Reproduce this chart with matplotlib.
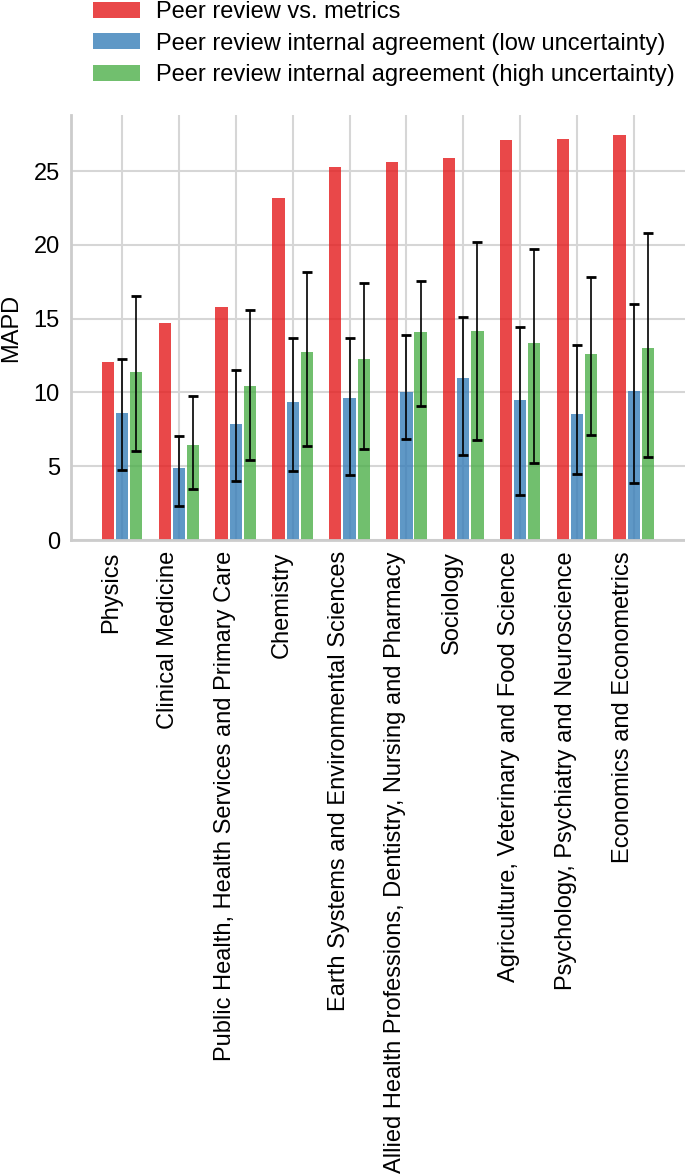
import matplotlib
matplotlib.use("Agg")
import matplotlib.pyplot as plt
import numpy as np

plt.rcParams['font.family'] = ['Liberation Sans', 'DejaVu Sans']

fields = ["Physics", "Clinical Medicine",
          "Public Health, Health Services and Primary Care", "Chemistry",
          "Earth Systems and Environmental Sciences",
          "Allied Health Professions, Dentistry, Nursing and Pharmacy",
          "Sociology", "Agriculture, Veterinary and Food Science",
          "Psychology, Psychiatry and Neuroscience",
          "Economics and Econometrics"]

metrics = [12.06, 14.73, 15.79, 23.19, 25.25, 25.59, 25.88, 27.10, 27.15, 27.44]

low_unc = [8.60, 4.86, 7.87, 9.32, 9.62, 10.05, 10.95, 9.48, 8.55, 10.11]
low_unc_lo = [4.75, 2.29, 4.00, 4.70, 4.41, 6.83, 5.79, 3.03, 4.46, 3.85]
low_unc_hi = [12.30, 7.08, 11.54, 13.67, 13.67, 13.89, 15.14, 14.43, 13.19, 16.00]

high_unc = [11.36, 6.45, 10.45, 12.74, 12.26, 14.12, 14.16, 13.33, 12.58, 13.03]
high_unc_lo = [6.00, 3.46, 5.43, 6.38, 6.18, 9.05, 6.79, 5.25, 7.10, 5.61]
high_unc_hi = [16.56, 9.73, 15.57, 18.17, 17.42, 17.58, 20.20, 19.70, 17.85, 20.81]

labels = ["Peer review vs. metrics",
          "Peer review internal agreement (low uncertainty)",
          "Peer review internal agreement (high uncertainty)"]

x = np.arange(len(fields))
off = 0.25
w = 0.216
fs = 17

fig = plt.figure(figsize=(6.85, 11.75), dpi=100)
ax = fig.add_axes([0.1036, 0.5404, 0.8964, 0.3617])

lo_err = [np.array(low_unc) - np.array(low_unc_lo), np.array(low_unc_hi) - np.array(low_unc)]
hi_err = [np.array(high_unc) - np.array(high_unc_lo), np.array(high_unc_hi) - np.array(high_unc)]

ekw = dict(ecolor='black', elinewidth=1.2, capsize=3.3, capthick=2)
ax.bar(x - off, metrics, w, color='#e41a1c', alpha=0.8, label=labels[0], zorder=2)
ax.bar(x, low_unc, w, color='#377eb8', alpha=0.8, label=labels[1], zorder=2,
       yerr=lo_err, error_kw=ekw)
ax.bar(x + off, high_unc, w, color='#4daf4a', alpha=0.8, label=labels[2], zorder=2,
       yerr=hi_err, error_kw=ekw)

ax.set_xlim(-0.9, 9.9)
ax.set_ylim(0, 28.8)
ax.set_yticks([0, 5, 10, 15, 20, 25])
ax.set_xticks(x)
ax.set_xticklabels(fields, rotation=90, ha='right', va='top')
ax.tick_params(length=0, labelsize=fs, pad=8)
ax.set_ylabel("MAPD", fontsize=fs, labelpad=8)

ax.grid(True, color='#d6d6d6', linewidth=1.5, zorder=0)
ax.set_axisbelow(True)
for s in ['top', 'right']:
    ax.spines[s].set_visible(False)
for s in ['left', 'bottom']:
    ax.spines[s].set_color('#cccccc')
    ax.spines[s].set_linewidth(2)

fig.legend(loc='upper left', bbox_to_anchor=(92 / 685, 1.0), frameon=False,
           fontsize=fs, handlelength=2.0, handleheight=0.65, handletextpad=0.64,
           labelspacing=0.4, borderpad=0.05, borderaxespad=0)

fig.savefig("out.png", dpi=100)
